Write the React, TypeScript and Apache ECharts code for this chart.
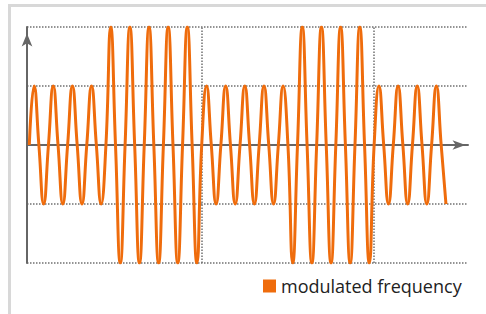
import React, { useEffect, useRef } from "react";
import * as echarts from "echarts";

// Extreme value of each half cycle of the wave, in order
const halfCycleExtremes: number[] = [
  1, -1, 1, -1, 1, -1, 1, -1,
  2, -2, 2, -2, 2, -2, 2, -2, 2, -2,
  1, -1, 1, -1, 1, -1, 1, -1, 1,
  -2, 2, -2, 2, -2, 2, -2, 2, -2,
  1, -1, 1, -1, 1, -1, 1, -1,
];
// Length of one half cycle, in periods
const halfCycleLength = 0.5;
// Vertical reference lines (in periods)
const markerPositions: number[] = [9, 18];
const seriesName = "modulated frequency";
const yTicks: number[] = [-2, -1, 0, 1, 2];

function buildPoints(): [number, number][] {
  const pts: [number, number][] = [[0, 0]];
  halfCycleExtremes.forEach((v, k) => {
    const start = k * halfCycleLength;
    pts.push([start + halfCycleLength / 2, v]);
    if (k < halfCycleExtremes.length - 1) pts.push([start + halfCycleLength, 0]);
  });
  return pts;
}

export default function App() {
  const ref = useRef<HTMLDivElement>(null);
  useEffect(() => {
    if (!ref.current) return;
    const chart = echarts.init(ref.current, null, { renderer: "svg" });
    const dotted = { color: "#707070", width: 1.5, type: [1.5, 1.5] as any };
    chart.setOption({
      animation: false,
      backgroundColor: "#ffffff",
      graphic: [
        {
          type: "rect",
          shape: { x: 9.5, y: 5.5, width: 520, height: 400 },
          style: { fill: "none", stroke: "#d8d8d8", lineWidth: 3 },
          silent: true,
          z: -10,
        },
      ],
      grid: { left: 27, right: 18, top: 27, bottom: 51 },
      legend: {
        show: true,
        left: 263,
        top: 276,
        padding: 0,
        icon: "rect",
        itemWidth: 13,
        itemHeight: 13,
        itemGap: 7,
        textStyle: {
          fontFamily: "Open Sans",
          fontSize: 18,
          lineHeight: 20,
          color: "#222",
        },
        data: [seriesName],
      },
      xAxis: {
        type: "value",
        min: -0.12,
        max: 22.9,
        axisLabel: { show: false },
        axisTick: { show: false },
        splitLine: { show: false },
        axisLine: {
          show: true,
          onZero: true,
          symbol: ["none", "arrow"],
          symbolSize: [7, 13],
          symbolOffset: [0, -2.5],
          lineStyle: { color: "#666", width: 2 },
        },
      },
      yAxis: {
        type: "value",
        min: yTicks[0],
        max: yTicks[yTicks.length - 1],
        interval: 1,
        axisLabel: { show: false },
        axisTick: { show: false },
        splitLine: { show: true, lineStyle: dotted },
        axisLine: {
          show: true,
          onZero: false,
          symbol: ["none", "arrow"],
          symbolSize: [8, 13],
          symbolOffset: [0, -6.5],
          lineStyle: { color: "#666", width: 2 },
        },
      },
      series: [
        {
          name: seriesName,
          type: "line",
          data: buildPoints(),
          smooth: 0.5,
          showSymbol: false,
          itemStyle: { color: "#EF6C0C" },
          lineStyle: { color: "#EF6C0C", width: 3 },
          z: 3,
          markLine: {
            silent: true,
            symbol: ["none", "none"],
            label: { show: false },
            lineStyle: dotted,
            data: markerPositions.map((x) => ({ xAxis: x })),
            z: 1,
          },
        },
      ],
    });
    return () => chart.dispose();
  }, []);
  return (
    <div
      ref={ref}
      style={{ position: "fixed", left: 0, top: 0, width: 486, height: 314 }}
    />
  );
}
